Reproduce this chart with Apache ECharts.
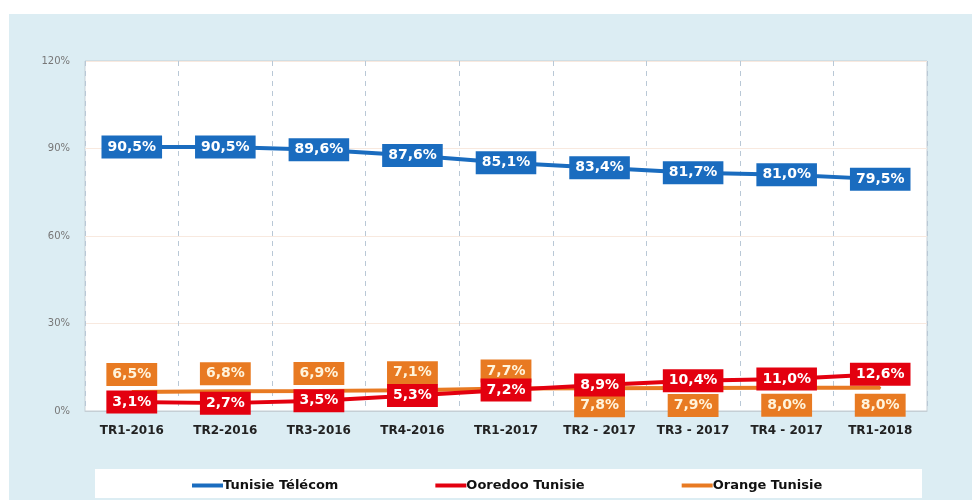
<!DOCTYPE html>
<html>
<head>
<meta charset="utf-8">
<script src="https://cdn.jsdelivr.net/npm/echarts@6/dist/echarts.min.js"></script>
<style>
html,body{margin:0;padding:0;background:#fff;}
#c{width:972px;height:500px;}
</style>
</head>
<body>
<div id="c"></div>
<script>
const categories = ['TR1-2016','TR2-2016','TR3-2016','TR4-2016','TR1-2017','TR2 - 2017','TR3 - 2017','TR4 - 2017','TR1-2018'];
const tunisieTelecom = [90.5, 90.5, 89.6, 87.6, 85.1, 83.4, 81.7, 81.0, 79.5];
const ooredooTunisie = [3.1, 2.7, 3.5, 5.3, 7.2, 8.9, 10.4, 11.0, 12.6];
const orangeTunisie = [6.5, 6.8, 6.9, 7.1, 7.7, 7.8, 7.9, 8.0, 8.0];
const yTicks = [0, 30, 60, 90, 120];

const BLUE = '#1a6cbf', RED = '#e3000f', ORANGE = '#e87a22';
const fmt = p => p.value.toFixed(1).replace('.', ',') + '%';
const font = 'DejaVu Sans';

function boxLabel(bg, color) {
  return {
    show: true, formatter: fmt, fontFamily: font, fontSize: 14, fontWeight: 'bold',
    color: color || '#fff', backgroundColor: bg, padding: [4, 6], lineHeight: 15
  };
}

const orangeData = orangeTunisie.map((v, i) => ({
  value: v,
  label: { position: v > ooredooTunisie[i] ? 'top' : 'bottom', distance: 5 }
}));

const chart = echarts.init(document.getElementById('c'), null, {renderer: 'canvas'});
chart.setOption({
  animation: false,
  backgroundColor: '#fff',
  graphic: [
    {type: 'rect', z: -10, shape: {x: 9, y: 14, width: 963, height: 486}, style: {fill: '#dcedf3'}},
    {type: 'rect', z: -9, shape: {x: 95, y: 469, width: 827, height: 29}, style: {fill: '#ffffff'}}
  ],
  grid: {
    left: 85, right: 45, top: 61, bottom: 89,
    show: true, backgroundColor: '#ffffff', borderColor: '#c5cfd5', borderWidth: 1
  },
  legend: {
    left: 187, top: 474, itemWidth: 31, itemHeight: 4, itemGap: 97, icon: 'rect',
    textStyle: {fontFamily: font, fontSize: 13, fontWeight: 'bold', color: '#111', padding: [0, 0, 0, -5]},
    data: ['Tunisie Télécom', 'Ooredoo Tunisie', 'Orange Tunisie']
  },
  xAxis: {
    type: 'category', data: categories, boundaryGap: true,
    axisLine: {show: true, lineStyle: {color: '#c5cfd5'}},
    axisTick: {show: false},
    axisLabel: {fontFamily: font, fontSize: 12, fontWeight: 'bold', color: '#222', margin: 14, interval: 0},
    splitLine: {show: true, interval: 0, lineStyle: {color: '#b9c8d6', type: [5, 5], width: 1}}
  },
  yAxis: {
    type: 'value', min: yTicks[0], max: yTicks[yTicks.length - 1], interval: 30,
    axisLine: {show: false}, axisTick: {show: false},
    axisLabel: {fontFamily: font, fontSize: 10, color: '#777', margin: 15, formatter: v => v + '%'},
    splitLine: {show: true, lineStyle: {color: '#f8e9df', width: 1}}
  },
  series: [
    {
      name: 'Tunisie Télécom', type: 'line', data: tunisieTelecom, z: 4,
      symbol: 'circle', symbolSize: 2, itemStyle: {color: BLUE},
      lineStyle: {color: BLUE, width: 4},
      label: Object.assign(boxLabel(BLUE), {position: 'inside'})
    },
    {
      name: 'Ooredoo Tunisie', type: 'line', data: ooredooTunisie, z: 3,
      symbol: 'circle', symbolSize: 2, itemStyle: {color: RED},
      lineStyle: {color: RED, width: 4},
      label: Object.assign(boxLabel(RED), {position: 'inside'})
    },
    {
      name: 'Orange Tunisie', type: 'line', data: orangeData, z: 2,
      symbol: 'circle', symbolSize: 2, itemStyle: {color: ORANGE},
      lineStyle: {color: ORANGE, width: 4},
      label: boxLabel(ORANGE, '#fff4dc')
    }
  ]
});
</script>
</body>
</html>
